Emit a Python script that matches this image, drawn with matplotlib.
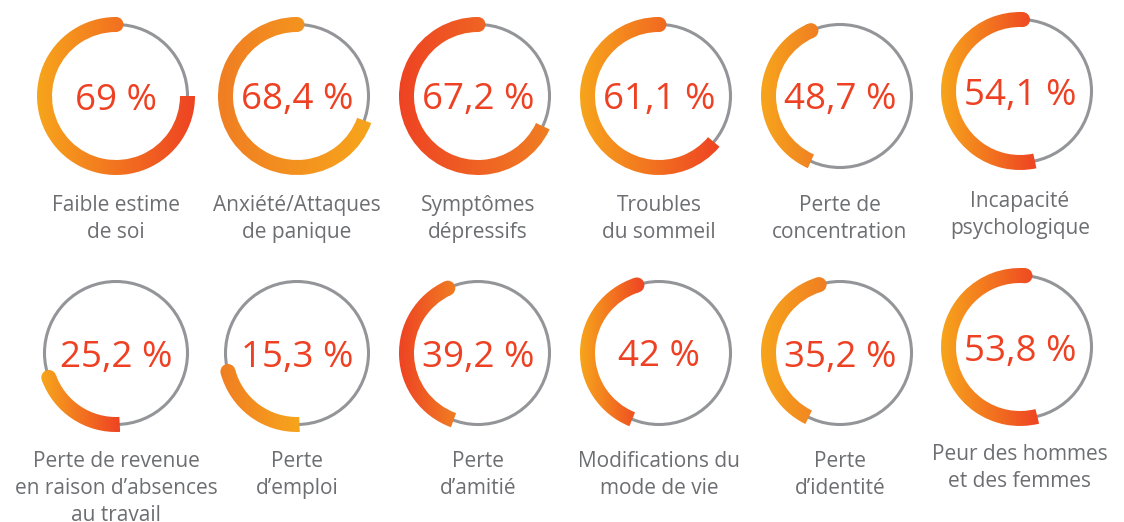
import numpy as np
import matplotlib
matplotlib.use("Agg")
import matplotlib.pyplot as plt
from matplotlib.patches import Wedge, Circle
from matplotlib.colors import LinearSegmentedColormap

# ---- data ----
values = [69, 68.4, 67.2, 61.1, 48.7, 54.1, 25.2, 15.3, 39.2, 42, 35.2, 53.8]
labels = [
    "Faible estime\nde soi",
    "Anxiété/Attaques\nde panique",
    "Symptômes\ndépressifs",
    "Troubles\ndu sommeil",
    "Perte de\nconcentration",
    "Incapacité\npsychologique",
    "Perte de revenue\nen raison d’absences\nau travail",
    "Perte\nd’emploi",
    "Perte\nd’amitié",
    "Modifications du\nmode de vie",
    "Perte\nd’identité",
    "Peur des hommes\net des femmes",
]
# drawn arc extent (degrees, counter-clockwise from 3 o'clock)
arc_start = [90, 90, 90, 90, 114, 88, 200, 195, 115, 108, 107, 86]
arc_end = [360, 340, 335, 320, 246, 282, 273, 272, 250, 248, 244, 284]

YEL = "#F7A51C"
ORA = "#F07E23"
RED = "#EE4323"
grad_left = [YEL, ORA, RED, YEL, YEL, YEL, YEL, ORA, RED, YEL, YEL, YEL]
grad_right = [RED, YEL, ORA, RED, ORA, RED, RED, YEL, ORA, RED, ORA, RED]

# ---- layout (pixels) ----
W, H = 1124, 522
col_x = [116, 297, 478, 659, 840, 1020]
row_y = [96, 353]
R = 71.5
ARC_W = 15
special_dy = {5: -5, 11: -6}          # rings drawn slightly higher
label_base = [211, 467]
label_dy = {5: -4, 11: -7}
LINE = 27

FONT = "Open Sans"
VAL_COL = "#EE4123"
LAB_COL = "#6D6E71"
RING_COL = "#939598"

fig = plt.figure(figsize=(W / 100, H / 100), dpi=100)
ax = fig.add_axes([0, 0, 1, 1])
ax.set_axis_off()

grad = np.linspace(0, 1, 256).reshape(1, -1)

for i, v in enumerate(values):
    r_i, c_i = divmod(i, 6)
    cx = col_x[c_i]
    cy = row_y[r_i] + special_dy.get(i, 0)

    ax.add_patch(Circle((cx, cy), R, fill=False, ec=RING_COL, lw=2.2, zorder=1))

    a0, a1 = arc_start[i], arc_end[i]
    # pixel coords (y down): visual CCW arc a0->a1 equals data wedge -a1 -> -a0
    wedge = Wedge((cx, cy), R + ARC_W / 2, -a1, -a0, width=ARC_W,
                  transform=ax.transData, fc="none", ec="none")
    capx = cx + R * np.cos(np.radians(a0))
    capy = cy - R * np.sin(np.radians(a0))
    cap = Circle((capx, capy), ARC_W / 2, transform=ax.transData, fc="none", ec="none")
    ax.add_patch(wedge)
    ax.add_patch(cap)

    th = np.radians(np.linspace(a0, a1, 400))
    xs = np.concatenate([cx + (R + ARC_W / 2) * np.cos(th), cx + (R - ARC_W / 2) * np.cos(th)])
    x0, x1 = min(xs.min(), capx - ARC_W / 2), max(xs.max(), capx + ARC_W / 2)
    cmap = LinearSegmentedColormap.from_list(f"g{i}", [grad_left[i], grad_right[i]])
    for clip in (wedge, cap):
        im = ax.imshow(grad, cmap=cmap, aspect="auto", interpolation="bicubic",
                       extent=(x0, x1, cy + R + 12, cy - R - 12), zorder=2)
        im.set_clip_path(clip)

    txt = f"{v:g}".replace(".", ",") + " %"
    ax.text(cx, cy + 13.5, txt, ha="center", va="baseline", color=VAL_COL,
            fontsize=26.5, family=FONT)

    base = label_base[r_i] + label_dy.get(i, 0)
    for k, line in enumerate(labels[i].split("\n")):
        ax.text(cx, base + k * LINE, line, ha="center", va="baseline",
                color=LAB_COL, fontsize=15, family=FONT)

ax.set_xlim(0, W)
ax.set_ylim(H, 0)
fig.savefig("out.png", dpi=100, facecolor="white")
